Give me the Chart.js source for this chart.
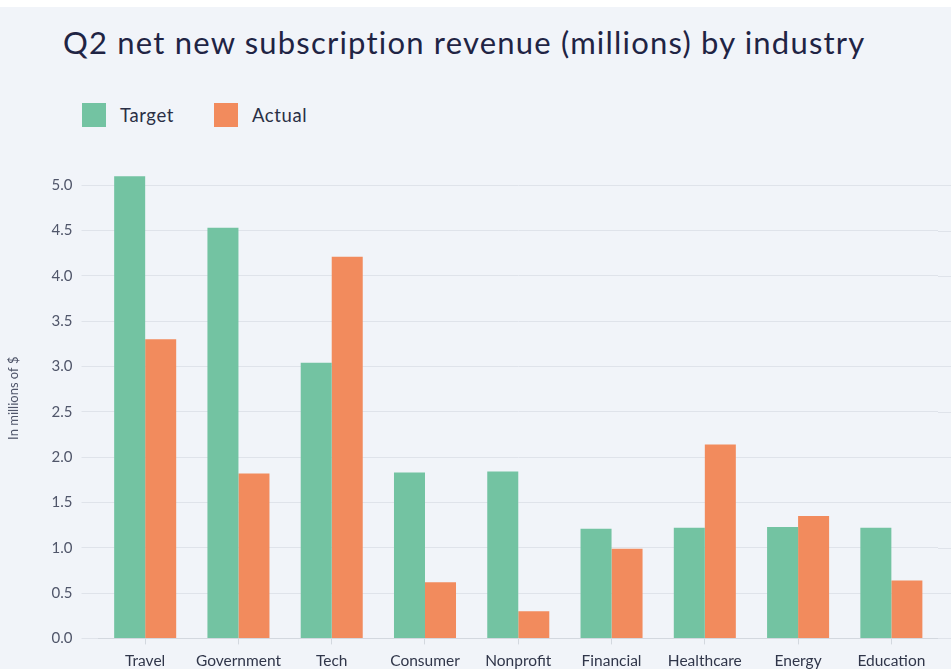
<!DOCTYPE html>
<html>
<head>
<meta charset="utf-8">
<script src="https://cdn.jsdelivr.net/npm/chart.js@4"></script>
<style>
  html, body { margin: 0; padding: 0; }
  body {
    width: 951px; height: 669px; overflow: hidden; position: relative;
    background: #f1f4f9; font-family: Lato, "Open Sans", sans-serif;
  }
  .topband { position: absolute; left: 0; top: 0; width: 951px; height: 7px; background: #fff; }
  h1 {
    position: absolute; left: 63px; top: 23px; margin: 0;
    font-weight: 400; font-size: 31px; letter-spacing: 1.2px; color: #1f2444; white-space: nowrap;
  }
  .legend { position: absolute; left: 82px; top: 103px; display: flex; align-items: center; }
  .legend .item { display: flex; align-items: center; margin-right: 40px; }
  .legend .box { width: 24px; height: 24px; margin-right: 14px; }
  .legend span { font-size: 18.5px; letter-spacing: 0.6px; color: #2a2f45; }
  #wrap { position: absolute; left: 0; top: 140px; width: 951px; height: 537px; }
</style>
</head>
<body>
<div class="topband"></div>
<h1>Q2 net new subscription revenue (millions) by industry</h1>
<div class="legend" id="legend"></div>
<div id="wrap"><canvas id="barChart"></canvas></div>
<script>
const industries = ["Travel", "Government", "Tech", "Consumer", "Nonprofit", "Financial", "Healthcare", "Energy", "Education"];
const target = [5.1, 4.53, 3.04, 1.83, 1.84, 1.21, 1.22, 1.23, 1.22];
const actual = [3.3, 1.82, 4.21, 0.62, 0.30, 0.99, 2.14, 1.35, 0.64];
const seriesNames = ["Target", "Actual"];
const seriesColors = ["#73c3a2", "#f28b5d"];
const yTicks = [0, 0.5, 1.0, 1.5, 2.0, 2.5, 3.0, 3.5, 4.0, 4.5, 5.0];

// legend squares above the chart
const legend = document.getElementById("legend");
seriesNames.forEach((name, i) => {
    const item = document.createElement("div");
    item.className = "item";
    item.innerHTML = '<div class="box" style="background:' + seriesColors[i] + '"></div><span>' + name + '</span>';
    legend.appendChild(item);
});

const gridColor = "#dfe3ea";

// carry the horizontal grid lines on to the right edge of the canvas
const extendGrid = {
    id: "extendGrid",
    beforeDatasetsDraw(chart) {
        const ctx = chart.ctx;
        const y = chart.scales.y;
        ctx.save();
        ctx.strokeStyle = gridColor;
        ctx.lineWidth = 1;
        yTicks.forEach(v => {
            const py = Math.round(y.getPixelForValue(v)) + 0.5;
            ctx.beginPath();
            ctx.moveTo(chart.chartArea.right, py);
            ctx.lineTo(chart.width, py);
            ctx.stroke();
        });
        ctx.restore();
    }
};

const ctx = document.getElementById("barChart");
new Chart(ctx, {
    type: "bar",
    data: {
        labels: industries,
        datasets: [
            { label: seriesNames[0], data: target, backgroundColor: seriesColors[0] },
            { label: seriesNames[1], data: actual, backgroundColor: seriesColors[1] }
        ]
    },
    options: {
        responsive: true,
        maintainAspectRatio: false,
        animation: false,
        layout: { padding: { top: 17, right: 13, bottom: 0, left: 0 } },
        datasets: { bar: { categoryPercentage: 0.665, barPercentage: 1.0 } },
        plugins: {
            legend: { display: false },
            tooltip: { enabled: false }
        },
        scales: {
            x: {
                grid: {
                    display: true, drawOnChartArea: false, offset: false,
                    tickLength: 6, color: "#d3d8df"
                },
                border: { display: true, color: "#d3d8df" },
                ticks: {
                    padding: 7, color: "#30364a",
                    font: { family: "Lato", size: 15.5 }
                }
            },
            y: {
                min: 0,
                max: 5.3,
                afterBuildTicks(scale) {
                    scale.ticks = yTicks.map(v => ({ value: v }));
                },
                grid: { color: gridColor, tickLength: 17 },
                border: { display: false },
                ticks: {
                    padding: 9, color: "#50566a",
                    font: { family: "Lato", size: 15 },
                    callback: v => v.toFixed(1)
                },
                title: {
                    display: true, text: "In millions of $", color: "#50566a",
                    font: { family: "Lato", size: 13 },
                    padding: { top: 6, bottom: 21 }
                }
            }
        }
    },
    plugins: [extendGrid]
});
</script>
</body>
</html>
